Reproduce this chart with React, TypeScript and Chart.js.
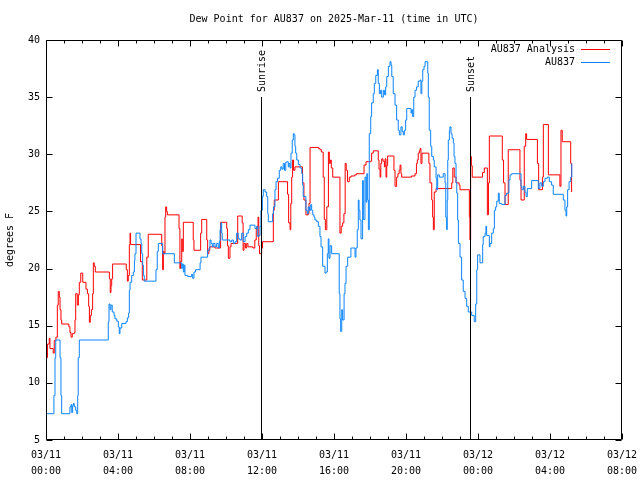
import React, { useEffect, useRef } from 'react';
import { Chart, registerables } from 'chart.js';

Chart.register(...registerables);

const TITLE = 'Dew Point for AU837 on 2025-Mar-11 (time in UTC)';
const Y_LABEL = 'degrees F';
const ANALYSIS_NAME = 'AU837 Analysis';
const OBS_NAME = 'AU837';
const ANALYSIS_COLOR = '#ff0000';
const OBS_COLOR = '#0a84ff';

const X_MIN = 0;
const X_MAX = 32;
const X_STEP = 4;
const Y_MIN = 5;
const Y_MAX = 40;
const Y_STEP = 5;

const X_TICK_LABELS = [
  ['03/11', '00:00'],
  ['03/11', '04:00'],
  ['03/11', '08:00'],
  ['03/11', '12:00'],
  ['03/11', '16:00'],
  ['03/11', '20:00'],
  ['03/12', '00:00'],
  ['03/12', '04:00'],
  ['03/12', '08:00'],
];

// Sun events: hour since 03/11 00:00 UTC, and the top of the marker line (degrees F)
const SUN_EVENTS = [
  { name: 'Sunrise', hour: 11.92, top: 35 },
  { name: 'Sunset', hour: 23.56, top: 35 },
];

// [hours since 03/11 00:00 UTC, degrees F] -- value starts at that hour
const ANALYSIS = [
  [0.04, 12.2], [0.08, 13.4], [0.18, 13.9], [0.22, 13.0], [0.40, 12.6], [0.46, 13.7], [0.55, 14.0],
  [0.63, 16.8], [0.68, 18.0], [0.74, 17.5], [0.78, 16.4], [0.83, 15.5], [0.87, 15.15], [1.27, 14.9],
  [1.33, 14.4], [1.39, 14.0], [1.46, 14.3], [1.57, 14.4], [1.61, 15.5], [1.65, 17.8], [1.74, 16.8],
  [1.80, 17.7], [1.85, 18.8], [1.93, 19.6], [2.04, 18.8], [2.22, 18.2], [2.30, 17.8], [2.37, 16.7],
  [2.41, 15.3], [2.46, 15.9], [2.52, 16.4], [2.59, 17.8], [2.63, 20.5], [2.68, 20.2], [2.74, 19.7],
  [3.52, 19.1], [3.57, 17.9], [3.61, 18.5], [3.65, 19.1], [3.70, 20.4], [4.46, 19.9], [4.52, 18.9],
  [4.57, 19.4], [4.63, 22.1], [4.67, 23.1], [4.70, 22.1], [5.25, 20.6], [5.35, 19.0], [5.60, 21.0],
  [5.68, 23.0], [6.43, 22.0], [6.48, 19.9], [6.52, 21.5], [6.56, 21.3], [6.61, 24.5], [6.65, 25.4],
  [6.70, 25.0], [6.74, 24.7], [7.39, 23.5], [7.44, 20.0], [7.47, 20.6], [7.54, 22.6], [7.57, 21.5],
  [7.63, 24.05], [8.18, 22.5], [8.22, 21.6], [8.59, 23.1], [8.65, 24.3], [8.93, 22.5], [8.98, 21.3],
  [9.05, 21.6], [9.10, 21.9], [9.39, 21.8], [9.70, 24.05], [10.04, 23.5], [10.08, 22.0], [10.13, 20.9],
  [10.22, 21.9], [10.28, 22.2], [10.65, 24.6], [10.90, 24.0], [10.95, 21.6], [11.0, 22.2], [11.08, 21.8],
  [11.15, 22.2], [11.22, 21.9], [11.5, 21.8], [11.6, 22.5], [11.68, 23.5], [11.72, 23.7], [11.78, 24.5],
  [11.82, 22.0], [11.86, 21.3], [11.98, 21.8], [12.03, 22.35], [12.63, 25.1], [12.68, 26.0], [12.91, 27.6],
  [13.42, 26.5], [13.48, 24.0], [13.56, 23.4], [13.60, 25.7], [13.65, 28.0], [13.70, 29.5], [13.75, 28.6],
  [13.83, 28.9], [14.25, 27.5], [14.33, 26.0], [14.44, 24.7], [14.57, 24.8], [14.61, 25.7], [14.67, 30.6],
  [15.15, 30.5], [15.22, 30.4], [15.30, 30.2], [15.40, 28.0], [15.46, 24.3], [15.52, 23.4], [15.60, 25.4],
  [15.69, 30.2], [15.74, 29.2], [15.80, 29.5], [15.85, 28.8], [15.93, 28.0], [16.33, 23.1], [16.40, 23.7],
  [16.48, 24.0], [16.55, 24.8], [16.62, 29.2], [16.68, 28.6], [16.75, 27.6], [16.85, 28.0], [16.95, 28.1],
  [17.15, 28.2], [17.25, 28.3], [17.67, 29.06], [17.78, 29.35], [18.04, 29.4], [18.09, 30.1], [18.18, 30.3],
  [18.46, 29.5], [18.50, 28.7], [18.56, 28.0], [18.60, 29.2], [18.65, 29.6], [18.72, 29.4], [18.80, 28.9],
  [18.84, 29.6], [18.89, 28.0], [18.93, 29.0], [18.98, 29.85], [19.33, 28.6], [19.39, 27.2], [19.48, 28.0],
  [19.55, 28.3], [19.62, 28.6], [19.67, 29.06], [19.72, 28.3], [19.76, 28.0], [20.30, 28.1], [20.50, 28.3],
  [20.58, 29.2], [20.63, 29.5], [20.68, 30.1], [20.74, 30.3], [20.78, 30.5], [20.83, 29.2], [20.89, 30.1],
  [21.27, 29.2], [21.33, 27.5], [21.43, 26.0], [21.48, 24.5], [21.52, 23.4], [21.57, 26.7], [21.67, 27.0],
  [22.54, 27.5], [22.60, 28.8], [22.68, 28.0], [22.78, 27.5], [22.95, 27.3], [23.0, 26.9], [23.52, 24.5],
  [23.55, 22.5], [23.59, 29.8], [23.63, 29.0], [23.68, 28.0], [24.25, 28.4], [24.35, 28.8], [24.52, 24.7],
  [24.58, 27.5], [24.63, 31.6], [25.35, 29.5], [25.42, 27.5], [25.5, 25.6], [25.68, 30.4], [26.33, 27.75],
  [26.39, 26.0], [26.57, 30.7], [26.65, 31.8], [26.70, 31.3], [27.30, 29.2], [27.37, 26.9], [27.58, 28.0],
  [27.63, 32.6], [27.91, 28.2], [28.55, 27.2], [28.61, 32.1], [28.68, 31.1], [29.15, 29.2], [29.2, 26.7],
];

const OBSERVED = [
  [0.04, 7.3], [0.44, 8.9], [0.50, 12.2], [0.54, 13.75], [0.78, 12.2], [0.83, 8.9], [0.87, 7.3],
  [1.33, 7.9], [1.39, 8.1], [1.43, 7.4], [1.48, 8.0], [1.52, 8.2], [1.57, 7.9], [1.65, 7.6], [1.71, 7.3],
  [1.76, 8.9], [1.79, 12.2], [1.85, 13.75], [3.46, 15.35], [3.50, 16.9], [3.56, 16.4], [3.61, 16.8],
  [3.68, 16.2], [3.78, 15.9], [3.83, 15.6], [3.93, 15.4], [4.02, 14.9], [4.07, 14.3], [4.11, 14.8],
  [4.21, 15.2], [4.44, 15.35], [4.52, 15.7], [4.59, 16.1], [4.63, 18.1], [4.67, 18.8], [4.76, 19.4],
  [4.85, 19.7], [4.91, 20.7], [4.94, 21.3], [5.00, 23.1], [5.22, 22.6], [5.28, 22.2], [5.32, 21.3],
  [5.37, 20.3], [5.41, 19.4], [5.46, 18.9], [6.11, 19.9], [6.18, 21.5], [6.24, 22.2], [6.48, 21.3],
  [7.13, 20.5], [7.54, 20.0], [7.57, 20.4], [7.63, 19.7], [7.68, 20.3], [7.72, 19.4], [7.87, 19.3],
  [8.09, 19.5], [8.15, 19.15], [8.22, 19.7], [8.31, 19.9], [8.56, 20.5], [8.61, 21.0], [8.98, 21.6],
  [9.06, 21.8], [9.11, 22.5], [9.17, 22.2], [9.24, 21.9], [9.29, 22.2], [9.39, 21.9], [9.48, 22.2],
  [9.57, 21.8], [9.63, 22.4], [9.67, 23.4], [9.72, 24.0], [9.76, 23.1], [9.79, 22.5], [10.22, 22.35],
  [10.32, 22.5], [10.41, 22.2], [10.50, 22.35], [10.59, 23.1], [10.68, 22.6], [10.78, 22.5], [10.87, 23.1],
  [10.96, 22.35], [11.06, 22.8], [11.15, 23.1], [11.24, 23.4], [11.33, 23.8], [11.61, 23.5], [11.71, 23.7],
  [11.76, 22.8], [11.83, 22.9], [11.89, 23.7], [11.94, 25.1], [12.02, 26.3], [12.07, 26.9], [12.17, 26.7],
  [12.26, 26.3], [12.32, 24.8], [12.35, 24.1], [12.59, 24.8], [12.64, 25.4], [12.72, 26.9], [12.78, 27.6],
  [12.86, 27.9], [12.96, 28.6], [13.04, 28.9], [13.11, 28.7], [13.18, 29.2], [13.25, 28.6], [13.32, 29.3],
  [13.37, 29.35], [13.46, 28.9], [13.50, 29.2], [13.56, 28.8], [13.61, 30.1], [13.68, 31.25], [13.74, 31.8],
  [13.79, 31.7], [13.83, 30.7], [13.87, 30.1], [13.93, 29.5], [14.02, 29.1], [14.11, 28.8], [14.21, 28.3],
  [14.26, 27.3], [14.29, 26.3], [14.44, 25.1], [14.52, 24.8], [14.57, 25.4], [14.64, 25.1], [14.71, 25.6],
  [14.76, 25.1], [14.82, 24.7], [14.89, 24.5], [14.94, 24.25], [15.04, 24.1], [15.13, 23.7], [15.22, 22.8],
  [15.28, 21.9], [15.37, 20.2], [15.50, 19.6], [15.56, 19.7], [15.63, 21.3], [15.68, 22.6], [15.72, 20.9],
  [15.78, 22.0], [15.87, 21.3], [16.29, 17.8], [16.33, 15.6], [16.37, 14.5], [16.43, 16.4], [16.48, 15.5],
  [16.56, 17.8], [16.61, 18.7], [16.67, 20.2], [16.76, 21.0], [16.94, 21.8], [17.17, 21.0], [17.22, 21.8],
  [17.29, 23.4], [17.35, 26.0], [17.39, 25.1], [17.44, 24.25], [17.50, 22.6], [17.59, 27.7], [17.63, 24.3],
  [17.72, 28.0], [17.78, 25.8], [17.82, 28.3], [17.87, 26.0], [17.91, 23.4], [17.96, 31.8], [18.04, 33.3],
  [18.09, 34.5], [18.18, 35.3], [18.24, 36.2], [18.32, 36.9], [18.41, 37.4], [18.46, 36.2], [18.52, 35.3],
  [18.59, 35.6], [18.65, 35.0], [18.74, 35.6], [18.81, 35.2], [18.87, 35.9], [18.93, 36.8], [19.02, 37.7],
  [19.11, 38.1], [19.17, 37.8], [19.21, 36.8], [19.29, 35.3], [19.39, 34.3], [19.48, 33.0], [19.57, 32.1],
  [19.63, 31.7], [19.72, 32.4], [19.79, 32.0], [19.85, 31.7], [19.91, 32.1], [19.98, 33.0], [20.04, 34.0],
  [20.28, 33.6], [20.32, 33.9], [20.37, 33.3], [20.43, 35.0], [20.50, 35.6], [20.59, 35.9], [20.68, 36.4],
  [20.78, 36.5], [20.83, 35.3], [20.88, 36.4], [20.93, 37.4], [21.00, 37.7], [21.06, 38.1], [21.21, 37.1],
  [21.24, 35.0], [21.29, 32.1], [21.37, 30.7], [21.43, 29.8], [21.52, 29.5], [21.57, 28.9], [21.67, 27.9],
  [21.71, 26.9], [21.76, 28.2], [21.85, 28.0], [22.07, 28.3], [22.17, 27.5], [22.21, 24.5], [22.26, 23.4],
  [22.29, 26.0], [22.32, 29.5], [22.35, 31.25], [22.41, 32.1], [22.44, 32.4], [22.50, 31.8], [22.56, 31.4],
  [22.63, 31.0], [22.67, 29.8], [22.72, 29.2], [22.78, 27.5], [22.82, 26.6], [22.87, 24.25], [22.91, 22.2],
  [23.00, 21.0], [23.09, 19.0], [23.18, 18.0], [23.28, 17.4], [23.37, 16.7], [23.46, 16.2], [23.65, 15.9],
  [23.79, 15.35], [23.87, 16.9], [23.93, 19.9], [23.98, 21.2], [24.11, 20.5], [24.26, 22.1], [24.29, 22.8],
  [24.39, 23.1], [24.44, 23.7], [24.48, 22.9], [24.63, 21.9], [24.67, 22.2], [24.76, 23.1], [24.85, 23.5],
  [24.91, 25.1], [24.98, 25.4], [25.04, 25.9], [25.13, 26.6], [25.18, 25.7], [25.32, 25.6], [25.50, 26.4],
  [25.59, 26.6], [25.72, 27.75], [25.78, 28.2], [25.87, 28.3], [26.39, 27.2], [26.44, 26.9], [26.52, 27.2],
  [26.61, 26.7], [26.67, 26.3], [26.74, 27.0], [26.98, 27.7], [27.35, 27.0], [27.44, 27.5], [27.54, 27.2],
  [27.63, 27.6], [27.72, 27.9], [27.85, 28.0], [27.96, 27.6], [28.09, 27.3], [28.18, 26.5], [28.74, 26.0],
  [28.83, 25.1], [28.89, 24.6], [28.93, 25.4], [28.98, 26.9], [29.06, 27.6], [29.15, 28.0], [29.21, 29.2],
];

const FONT_FAMILY = '"DejaVu Sans Mono", "Liberation Mono", monospace';
const FONT = `10px ${FONT_FAMILY}`;

const gnuplotFrame = {
  id: 'gnuplotFrame',
  afterDatasetsDraw(chart: any) {
    const { ctx, chartArea, scales } = chart;
    const { left, right, top, bottom } = chartArea;
    const xs = scales.x;
    const ys = scales.y;
    ctx.save();
    ctx.strokeStyle = '#000';
    ctx.fillStyle = '#000';
    ctx.lineWidth = 1;
    ctx.font = FONT;

    // sunrise / sunset markers
    SUN_EVENTS.forEach((ev) => {
      const px = Math.round(xs.getPixelForValue(ev.hour)) + 0.5;
      const py = Math.round(ys.getPixelForValue(ev.top));
      ctx.beginPath();
      ctx.moveTo(px, py);
      ctx.lineTo(px, bottom);
      ctx.stroke();
      ctx.save();
      ctx.translate(px + 1, py - 5);
      ctx.rotate(-Math.PI / 2);
      ctx.textAlign = 'left';
      ctx.textBaseline = 'middle';
      ctx.fillText(ev.name, 0, 0);
      ctx.restore();
    });

    // frame
    const L = Math.round(left) + 0.5;
    const R = Math.round(right) - 0.5;
    const T = Math.round(top) + 0.5;
    const B = Math.round(bottom) - 0.5;
    ctx.beginPath();
    ctx.rect(L, T, R - L, B - T);
    ctx.stroke();

    // x ticks (major every 4h, minor hourly), mirrored on top
    ctx.beginPath();
    for (let h = X_MIN; h <= X_MAX; h += 1) {
      const px = Math.round(xs.getPixelForValue(h)) + 0.5;
      const len = h % X_STEP === 0 ? 6 : 3;
      ctx.moveTo(px, B);
      ctx.lineTo(px, B - len);
      ctx.moveTo(px, T);
      ctx.lineTo(px, T + len);
    }
    // y ticks, mirrored on right
    for (let v = Y_MIN; v <= Y_MAX; v += Y_STEP) {
      const py = Math.round(ys.getPixelForValue(v)) + 0.5;
      ctx.moveTo(L, py);
      ctx.lineTo(L + 6, py);
      ctx.moveTo(R, py);
      ctx.lineTo(R - 6, py);
    }
    ctx.stroke();
    ctx.restore();
  },
  afterDraw(chart: any) {
    const { ctx, chartArea } = chart;
    const { left, right, top, bottom } = chartArea;
    ctx.save();
    ctx.fillStyle = '#000';
    ctx.font = FONT;
    // title
    ctx.textAlign = 'center';
    ctx.textBaseline = 'middle';
    ctx.fillText(TITLE, (left + right) / 2, top - 21);
    // y axis label
    ctx.save();
    ctx.translate(10, (top + bottom) / 2);
    ctx.rotate(-Math.PI / 2);
    ctx.textAlign = 'center';
    ctx.textBaseline = 'middle';
    ctx.fillText(Y_LABEL, 0, 0);
    ctx.restore();
    // legend
    const entries = [
      { name: ANALYSIS_NAME, color: ANALYSIS_COLOR },
      { name: OBS_NAME, color: OBS_COLOR },
    ];
    entries.forEach((e, i) => {
      const ly = Math.round(top + 9 + i * 13) + 0.5;
      ctx.textAlign = 'right';
      ctx.textBaseline = 'middle';
      ctx.fillStyle = '#000';
      ctx.fillText(e.name, right - 47, ly);
      ctx.strokeStyle = e.color;
      ctx.lineWidth = 1;
      ctx.beginPath();
      ctx.moveTo(right - 41, ly);
      ctx.lineTo(right - 12, ly);
      ctx.stroke();
    });
    ctx.restore();
  },
};

export default function App() {
  const ref = useRef<HTMLCanvasElement | null>(null);

  useEffect(() => {
    if (!ref.current) return;
    const tickFont = { family: FONT_FAMILY, size: 10, lineHeight: 1.65 };
    const chart = new Chart(ref.current, {
      type: 'line',
      data: {
        datasets: [
          {
            label: OBS_NAME,
            data: OBSERVED.map(([h, v]) => ({ x: h, y: v })),
            borderColor: OBS_COLOR,
            backgroundColor: OBS_COLOR,
            borderWidth: 1,
            pointRadius: 0,
            stepped: 'before',
            fill: false,
          },
          {
            label: ANALYSIS_NAME,
            data: ANALYSIS.map(([h, v]) => ({ x: h, y: v })),
            borderColor: ANALYSIS_COLOR,
            backgroundColor: ANALYSIS_COLOR,
            borderWidth: 1,
            pointRadius: 0,
            stepped: 'before',
            fill: false,
          },
        ],
      },
      options: {
        animation: false,
        responsive: false,
        maintainAspectRatio: false,
        layout: { padding: { top: 40, right: 18, left: 0, bottom: 0 } },
        plugins: {
          legend: { display: false },
          tooltip: { enabled: false },
          title: { display: false },
        },
        scales: {
          x: {
            type: 'linear',
            min: X_MIN,
            max: X_MAX,
            grid: { display: false, drawTicks: false },
            border: { display: false },
            ticks: {
              stepSize: X_STEP,
              autoSkip: false,
              maxRotation: 0,
              minRotation: 0,
              padding: 7,
              color: '#000',
              font: tickFont,
              callback: (v: any) => X_TICK_LABELS[Math.round((Number(v) - X_MIN) / X_STEP)] ?? '',
            },
            afterFit: (s: any) => {
              s.height = 40;
              s.paddingLeft = 0;
              s.paddingRight = 0;
            },
          },
          y: {
            type: 'linear',
            min: Y_MIN,
            max: Y_MAX,
            grid: { display: false, drawTicks: false },
            border: { display: false },
            ticks: {
              stepSize: Y_STEP,
              padding: 6,
              color: '#000',
              font: { family: FONT_FAMILY, size: 10 },
            },
            afterFit: (s: any) => {
              s.width = 46;
              s.paddingTop = 0;
              s.paddingBottom = 0;
            },
          },
        },
      },
      plugins: [gnuplotFrame],
    });
    return () => chart.destroy();
  }, []);

  return (
    <canvas
      ref={ref}
      width={640}
      height={480}
      style={{ position: 'absolute', left: 0, top: 0, width: 640, height: 480, background: '#fff' }}
    />
  );
}
